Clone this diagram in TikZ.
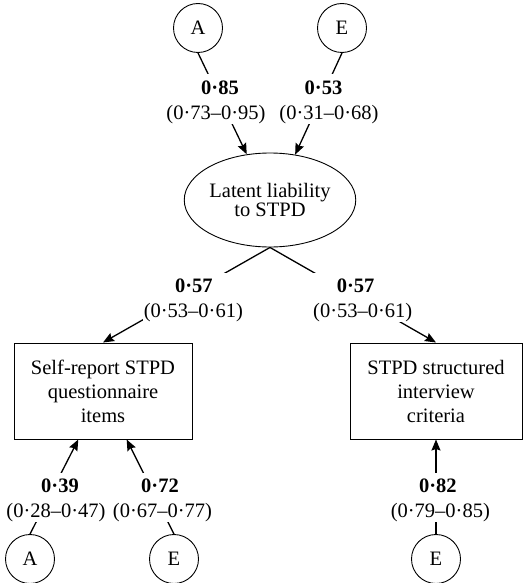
\documentclass[tikz,border=0pt]{standalone}
\usepackage{fontspec}
\setmainfont{Liberation Serif}
\usetikzlibrary{arrows.meta,shapes.geometric}

% path coefficient: bold estimate over its interval; #1 nudges the bold line sideways
\newcommand{\est}[3]{\hspace*{#1}\textbf{#2}\rule{0pt}{20pt}\\(#3)}

\begin{document}
\begin{tikzpicture}[x=1pt,y=-1pt,
  every node/.style={font=\fontsize{20.5}{25}\selectfont},
  factor/.style={draw, circle, line width=0.9pt, minimum size=49pt, inner sep=0pt},
  liab/.style={draw, ellipse, line width=0.9pt, minimum width=144pt,
    minimum height=94pt, inner sep=0pt, align=center,
    font=\fontsize{20.5}{19.5}\selectfont},
  measure/.style={draw, rectangle, line width=1pt, minimum height=96pt,
    inner sep=0pt, align=center, font=\fontsize{20.5}{24}\selectfont},
  link/.style={line width=1.3pt, -{Stealth[length=11pt,width=9pt,inset=1.5pt]}},
  coef/.style={fill=white, inner xsep=1pt, inner ysep=0pt, align=center},
]
\useasboundingbox (0,0) rectangle (523,583);

% latent variables and measures
\node[factor] (A1) at (198,28) {A};
\node[factor] (E1) at (342,28) {E};
\node[liab] (lat) at (270,200) {Latent liability\\to STPD};
\node[measure, minimum width=178pt] (srq) at (103,391) {Self-report STPD\\questionnaire\\items};
\node[measure, minimum width=172pt] (sci) at (436,391) {STPD structured\\interview\\criteria};
\node[factor] (A2) at (30,559) {A};
\node[factor] (E2) at (174,559) {E};
\node[factor] (E3) at (436,559) {E};

% paths
\draw[link] (A1.south) -- (lat.117);
\draw[link] (E1.south) -- (lat.61);
\draw[link] (lat.south) -- (srq.north);
\draw[link] (lat.south) -- (sci.north);
\draw[link] (A2.north) -- (srq.243.5);
\draw[link] (E2.north) -- (srq.296);
\draw[link] (E3.north) -- (sci.south);

% coefficients, masking the paths behind them
\node[coef] (c1) at (216,99) {\est{8pt}{0·85}{0·73–0·95}};
\node[coef] (c2) at (329,99) {\est{-11pt}{0·53}{0·31–0·68}};
\node[coef] (c3) at (193.3,297.3) {\est{1pt}{0·57}{0·53–0·61}};
\node[coef] (c4) at (362.7,297.3) {\est{-14pt}{0·57}{0·53–0·61}};
\node[coef] (c5) at (56,497.3) {\est{8pt}{0·39}{0·28–0·47}};
\node[coef] (c6) at (162.5,497.3) {\est{-5pt}{0·72}{0·67–0·77}};
\node[coef] (c7) at (440.3,497.3) {\est{-5pt}{0·82}{0·79–0·85}};
\end{tikzpicture}
\end{document}
